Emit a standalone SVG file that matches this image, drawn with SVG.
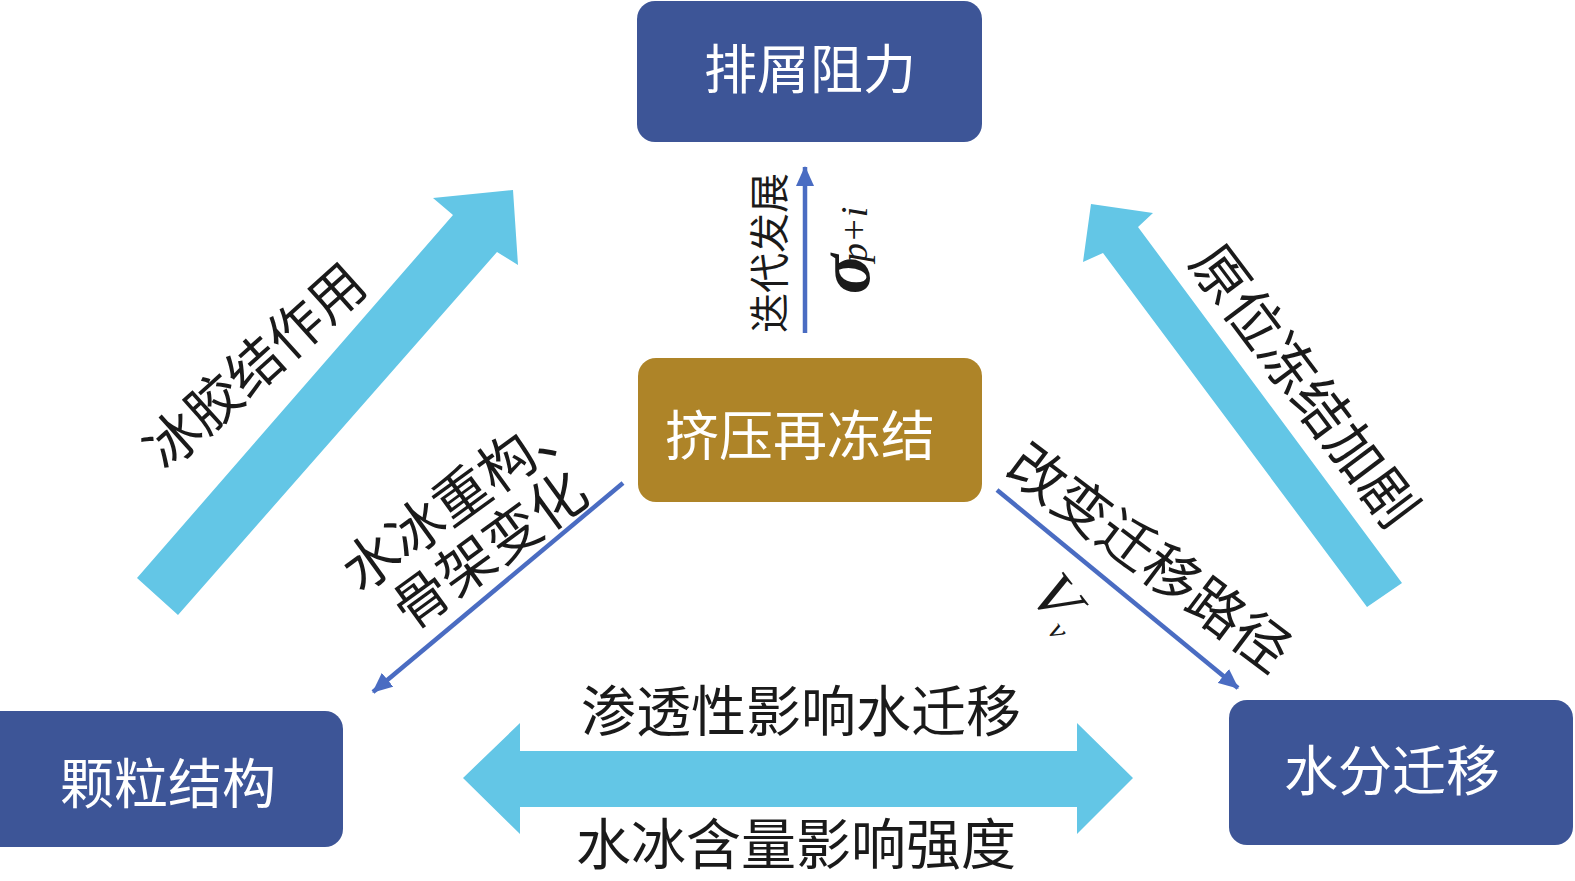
<svg xmlns="http://www.w3.org/2000/svg" width="1575" height="881" viewBox="0 0 1575 881">
<defs>
<style>
.box{fill:#3d5597;}
.gold{fill:#ae8428;}
.big{fill:#63c6e6;}
.thin{stroke:#4a6cc2;stroke-width:4.5;fill:none;}
.wt{fill:#ffffff;font-family:"Noto Sans CJK SC",sans-serif;font-size:54px;text-anchor:middle;dominant-baseline:central;}
.bt{fill:#1a1a1a;font-family:"Noto Sans CJK SC",sans-serif;font-size:55px;text-anchor:middle;dominant-baseline:central;}
.math{fill:#1a1a1a;font-family:"Liberation Serif",serif;font-style:italic;}
</style>
<marker id="ah" viewBox="0 0 20 18" markerUnits="userSpaceOnUse" markerWidth="20" markerHeight="18" refX="19" refY="9" orient="auto">
<path d="M0,0 L20,9 L0,18 z" fill="#4a6cc2"/>
</marker>
</defs>
<rect width="1575" height="881" fill="#ffffff"/>

<g id="connectors">
<polygon class="big" points="137,578 453,215 433,198 513,190 518,265 497,252 178,615"/>
<polygon class="big" points="1402,583 1138,227 1153,213 1091,204 1083,262 1103,253 1367,607"/>
<polygon class="big" points="463,778 520,723 520,751 1077,751 1077,723 1133,778 1077,834 1077,807 520,807 520,834"/>
<line class="thin" x1="805" y1="333" x2="805" y2="167" marker-end="url(#ah)"/>
<line class="thin" x1="623" y1="483" x2="373" y2="692" marker-end="url(#ah)"/>
<line class="thin" x1="997" y1="490" x2="1238" y2="688" marker-end="url(#ah)"/>
</g>

<g id="labels">
<text class="bt" transform="translate(252,363) rotate(-42)">冰胶结作用</text>
<text class="bt" transform="translate(459,492) rotate(-36)" style="font-size:56px">水冰重构、</text>
<text class="bt" transform="translate(487,546) rotate(-36)" style="font-size:56px">骨架变化</text>
<text class="bt" transform="translate(1152,554) rotate(37)" style="font-size:56px">改变迁移路径</text>
<text class="bt" transform="translate(1308,383) rotate(53)" style="font-size:56px">原位冻结加剧</text>
<text class="bt" transform="translate(767,253) rotate(-90)" style="font-size:40px">迭代发展</text>
<text class="bt" x="801" y="707">渗透性影响水迁移</text>
<text class="bt" x="796" y="840">水冰含量影响强度</text>
<g transform="translate(869,294) rotate(-90)">
<text class="math" x="0" y="0" style="font-size:74px;font-weight:bold">σ</text>
<text class="math" x="32" y="-2" style="font-size:38px">p+i</text>
</g>
<text class="math" transform="translate(1057,597) rotate(52)" style="font-size:64px" text-anchor="middle" dominant-baseline="central">V</text>
<text class="math" transform="translate(1059,630) rotate(52)" style="font-size:30px" text-anchor="middle" dominant-baseline="central">v</text>
</g>

<g id="node-top">
<rect class="box" x="637" y="1" width="345" height="141" rx="18"/>
<text class="wt" x="810" y="66" style="font-size:53px">排屑阻力</text>
</g>
<g id="node-center">
<rect class="gold" x="638" y="358" width="344" height="144" rx="18"/>
<text class="wt" x="800" y="432">挤压再冻结</text>
</g>
<g id="node-left">
<rect class="box" x="-20" y="711" width="363" height="136" rx="18"/>
<text class="wt" x="168" y="780">颗粒结构</text>
</g>
<g id="node-right">
<rect class="box" x="1229" y="700" width="344" height="145" rx="18"/>
<text class="wt" x="1392" y="767">水分迁移</text>
</g>
</svg>
